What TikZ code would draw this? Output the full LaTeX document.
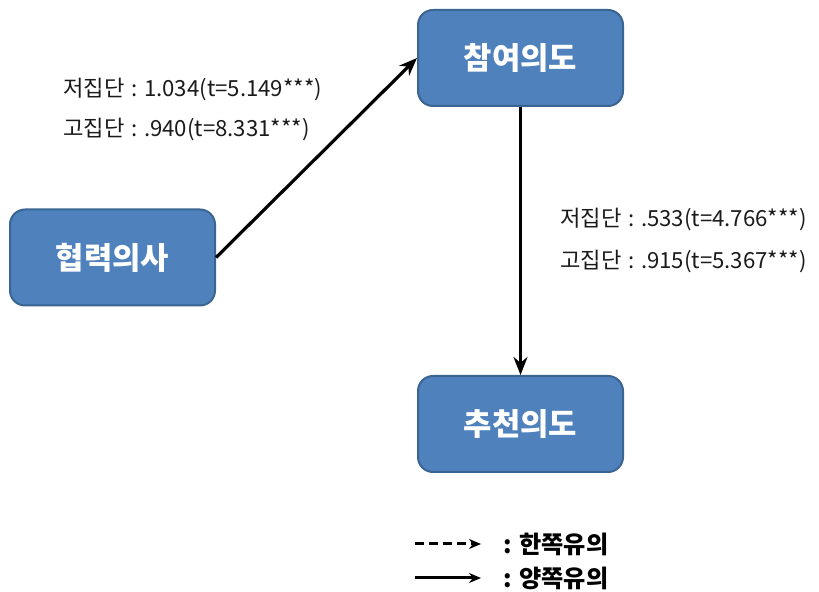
\documentclass[tikz,border=0pt]{standalone}
\usepackage{fontspec}
\setmainfont{Noto Sans CJK KR}
\usetikzlibrary{arrows.meta}
\definecolor{boxfill}{HTML}{4F81BD}
\definecolor{boxline}{HTML}{3A6591}
\definecolor{txt}{HTML}{1A1A1A}
\newcommand{\cln}{\hspace{0.3em}:\hspace{0.3em}}
\begin{document}
\begin{tikzpicture}[x=0.5pt,y=-0.5pt,
  box/.style={draw=boxline,line width=1pt,fill=boxfill,rounded corners=7.5pt,
    minimum width=102.5pt,minimum height=48pt,inner sep=0pt,
    text=white,font=\fontsize{15.4}{17}\selectfont\bfseries},
  lab/.style={anchor=west,inner sep=0pt,text=txt,font=\fontsize{11.1}{13}\selectfont},
  legt/.style={anchor=west,inner sep=0pt,text=black,font=\fontsize{12.1}{14}\selectfont\bfseries},
  conn/.style={line width=1.6pt,-{Stealth[length=9pt,width=7pt]}},
  legarr/.style={line width=1.5pt,-{Stealth[length=6pt,width=5pt]}}]
\useasboundingbox (0,0) rectangle (819,592);
\node[box] (a) at (112.5,257.5) {협력의사};
\node[box] (b) at (520.5,58) {참여의도};
\node[box] (c) at (520.5,424) {추천의도};
\draw[conn] (a.east) -- (b.west);
\draw[conn] (b.south) -- (c.north);
\node[lab] (l1) at (63,90) {저집단\cln 1.034(t=5.149***)};
\node[lab] (l2) at (63,130) {고집단\cln .940(t=8.331***)};
\node[lab] (l3) at (560,220) {저집단\cln .533(t=4.766***)};
\node[lab] (l4) at (560,262) {고집단\cln .915(t=5.367***)};
\coordinate (d1) at (415,544);
\coordinate (d2) at (481,544);
\coordinate (s1) at (415,578);
\coordinate (s2) at (481,578);
\draw[legarr,dash pattern=on 4.5pt off 2.5pt] (d1) -- (d2);
\draw[legarr] (s1) -- (s2);
\node[legt] (t1) at (503,544) {: 한쪽유의};
\node[legt] (t2) at (503,578) {: 양쪽유의};
\end{tikzpicture}
\end{document}
